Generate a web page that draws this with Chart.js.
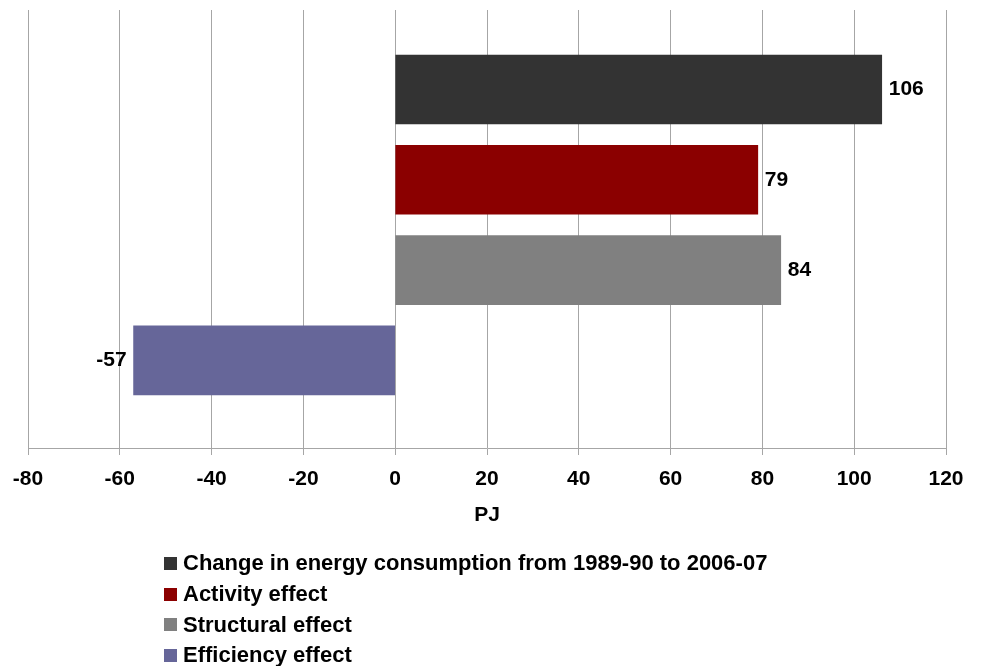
<!DOCTYPE html>
<html>
<head>
<meta charset="utf-8">
<script src="https://cdn.jsdelivr.net/npm/chart.js@4.4.1/dist/chart.umd.min.js"></script>
<style>
  html, body { margin: 0; padding: 0; background: #ffffff; }
  #wrap { position: relative; width: 982px; height: 666px; overflow: hidden; }
  #c { display: block; }
  #legend {
    position: absolute; left: 164px; top: 548px;
    font: bold 22px "Liberation Sans", Arial, sans-serif; color: #000;
  }
  #legend .row { display: flex; align-items: center; height: 30.7px; white-space: nowrap; }
  #legend .box { width: 13px; height: 13px; margin-right: 6px; flex: none; }
</style>
</head>
<body>
<div id="wrap">
  <canvas id="c" width="982" height="666" style="width:982px;height:666px"></canvas>
  <div id="legend"></div>
</div>
<script>
// Decomposition of the change in energy consumption (PJ)
const seriesNames = [
  'Change in energy consumption from 1989-90 to 2006-07',
  'Activity effect',
  'Structural effect',
  'Efficiency effect'
];
const seriesValues = [106, 79, 84, -57];
const seriesColors = ['#333333', '#8b0000', '#808080', '#666699'];
const xMin = -80;
const xMax = 120;
const xStep = 20;
const axisTitle = 'PJ';

const FONT = '"Liberation Sans", Arial, sans-serif';

// Value labels beside each bar end
const valueLabels = {
  id: 'valueLabels',
  afterDatasetsDraw(chart) {
    const ctx = chart.ctx;
    ctx.save();
    ctx.font = 'bold 21px ' + FONT;
    ctx.fillStyle = '#000';
    ctx.textBaseline = 'middle';
    chart.data.datasets.forEach((ds, i) => {
      const meta = chart.getDatasetMeta(i);
      meta.data.forEach((bar, j) => {
        const v = ds.data[j].x;
        if (v >= 0) {
          ctx.textAlign = 'left';
          ctx.fillText(String(v), bar.x + 7, bar.y);
        } else {
          ctx.textAlign = 'right';
          ctx.fillText(String(v), bar.x - 7, bar.y);
        }
      });
    });
    ctx.restore();
  }
};

// Each series gets its own row (series order, top to bottom) on a hidden index axis
const datasets = seriesNames.map((name, i) => ({
  label: name,
  data: [{ x: seriesValues[i], y: i }],
  backgroundColor: seriesColors[i],
  borderWidth: 0,
  grouped: false,
  barThickness: 69
}));

const chart = new Chart(document.getElementById('c'), {
  type: 'bar',
  data: { datasets },
  options: {
    indexAxis: 'y',
    responsive: false,
    animation: false,
    layout: { padding: { left: 28, right: 36, top: 10, bottom: 134 } },
    plugins: {
      legend: { display: false },
      tooltip: { enabled: false }
    },
    scales: {
      y: {
        type: 'linear',
        display: false,
        reverse: true,
        offset: false,
        min: -0.88,
        max: 3.97
      },
      x: {
        type: 'linear',
        min: xMin,
        max: xMax,
        ticks: {
          stepSize: xStep,
          padding: 12,
          color: '#000',
          font: { family: FONT, size: 21, weight: 'bold' }
        },
        grid: { color: '#a6a6a6', lineWidth: 1, tickLength: 7, drawTicks: true },
        border: { color: '#a6a6a6', width: 1 },
        title: {
          display: true,
          text: axisTitle,
          color: '#000',
          font: { family: FONT, size: 21, weight: 'bold' },
          padding: { top: 4, bottom: 4 }
        },
        afterFit(scale) { scale.height = 84; }
      }
    }
  },
  plugins: [valueLabels]
});

// Legend list built from the chart's datasets
const legendEl = document.getElementById('legend');
chart.data.datasets.forEach(ds => {
  const row = document.createElement('div');
  row.className = 'row';
  const box = document.createElement('span');
  box.className = 'box';
  box.style.background = ds.backgroundColor;
  const txt = document.createElement('span');
  txt.textContent = ds.label;
  row.appendChild(box);
  row.appendChild(txt);
  legendEl.appendChild(row);
});
</script>
</body>
</html>
